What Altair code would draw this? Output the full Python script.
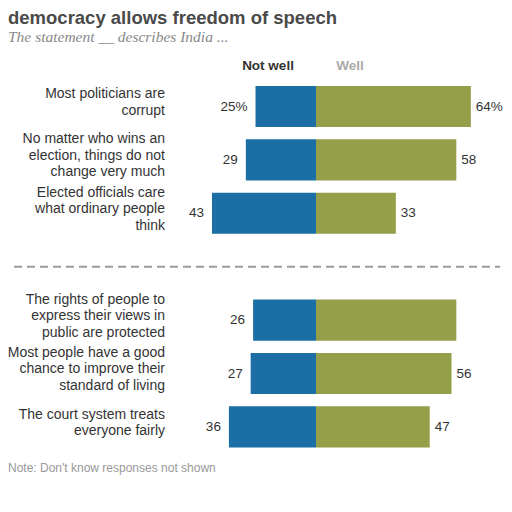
import altair as alt
import pandas as pd

# ---- data ----
row_ids = ["a", "b", "c", "d", "e", "f"]
statements = [
    "Most politicians are|corrupt",
    "No matter who wins an|election, things do not|change very much",
    "Elected officials care|what ordinary people|think",
    "The rights of people to|express their views in|public are protected",
    "Most people have a good|chance to improve their|standard of living",
    "The court system treats|everyone fairly",
]
not_well = [25, 29, 43, 26, 27, 36]
well = [64, 58, 33, 58, 56, 47]
not_well_labels = ["25%", "29", "43", "26", "27", "36"]
well_labels = ["64%", "58", "33", "", "56", "47"]
y_domain = ["a", "b", "c", "sep", "d", "e", "f"]

title_text = "democracy allows freedom of speech"
subtitle_text = "The statement __ describes India ..."
note_text = "Note: Don't know responses not shown"
headers = ["Not well", "Well"]

BLUE = "#1b6fa4"
GREEN = "#959e49"
FONT = "Liberation Sans"
LH = 16.5
BAND = 41.1

rows = []
for i, r in enumerate(row_ids):
    n_lines = statements[i].count("|") + 1
    shift = BAND / 2 - (n_lines - 1) * LH / 2 - 4
    rows.append({"row": r, "resp": "Not well", "start": -not_well[i], "end": 0,
                 "label": not_well_labels[i], "stmt": statements[i], "shift": shift})
    rows.append({"row": r, "resp": "Well", "start": 0, "end": well[i],
                 "label": well_labels[i], "stmt": statements[i], "shift": shift})
df = pd.DataFrame(rows)

xs = alt.Scale(domain=[-127.3, 77.7], nice=False, zero=False)
ys = alt.Scale(domain=y_domain, range=[71.8, 445.6], paddingInner=0.23, paddingOuter=0.115)

base = alt.Chart(df)

bars = base.mark_bar(cornerRadius=0).encode(
    x=alt.X("start:Q", scale=xs, axis=None),
    x2="end:Q",
    y=alt.Y("row:N", scale=ys, axis=None),
    color=alt.Color("resp:N", scale=alt.Scale(domain=headers, range=[BLUE, GREEN]), legend=None),
)

nw_text = base.transform_filter(alt.datum.resp == "Not well").mark_text(
    align="right", baseline="middle", dx=-8, fontSize=13.5, font=FONT, color="#333333"
).encode(
    x=alt.X("start:Q", scale=xs), y=alt.Y("row:N", scale=ys), text="label:N"
)

w_text = base.transform_filter(alt.datum.resp == "Well").mark_text(
    align="left", baseline="middle", dx=5, fontSize=13.5, font=FONT, color="#333333"
).encode(
    x=alt.X("end:Q", scale=xs), y=alt.Y("row:N", scale=ys), text="label:N"
)

stmt_text = base.transform_filter(alt.datum.resp == "Well").mark_text(
    align="right", baseline="middle", fontSize=14, font=FONT, color="#333333",
    lineBreak="|", lineHeight=LH
).encode(
    x=alt.value(157), y=alt.Y("row:N", scale=ys),
    yOffset=alt.YOffset("shift:Q", scale=None), text="stmt:N"
)

sep = alt.Chart(pd.DataFrame({"row": ["sep"]})).mark_rule(
    color="#9a9a9a", strokeWidth=2, strokeDash=[8, 5]
).encode(
    x=alt.value(6), x2=alt.value(492),
    y=alt.Y("row:N", scale=ys, bandPosition=0.5),
)

hdr_df = pd.DataFrame({"h": headers, "px": [260, 342], "c": ["#333333", "#aaaaaa"]})
hdr = alt.Chart(hdr_df).mark_text(
    align="center", baseline="middle", fontSize=13.5, font=FONT, fontWeight="bold"
).encode(
    x=alt.X("px:Q", scale=None), y=alt.value(58), text="h:N",
    color=alt.Color("c:N", scale=None),
)

title = alt.Chart(pd.DataFrame({"t": [title_text]})).mark_text(
    align="left", baseline="alphabetic", fontSize=18.5, font=FONT, fontWeight="bold", color="#4a4a4a"
).encode(x=alt.value(0), y=alt.value(16), text="t:N")

subtitle = alt.Chart(pd.DataFrame({"t": [subtitle_text]})).mark_text(
    align="left", baseline="alphabetic", fontSize=15.5, font="Liberation Serif",
    fontStyle="italic", color="#888888"
).encode(x=alt.value(0), y=alt.value(34), text="t:N")

note = alt.Chart(pd.DataFrame({"t": [note_text]})).mark_text(
    align="left", baseline="middle", fontSize=12, font=FONT, color="#999999"
).encode(x=alt.value(0), y=alt.value(460), text="t:N")

chart = alt.layer(
    bars, nw_text, w_text, stmt_text, sep, hdr, title, subtitle, note
).properties(
    width=496, height=496,
    padding=0,
    background="white",
    autosize=alt.AutoSizeParams(type="none"),
).configure_view(stroke=None)

chart.save("out.html", embed_options={"renderer": "svg", "actions": False})
